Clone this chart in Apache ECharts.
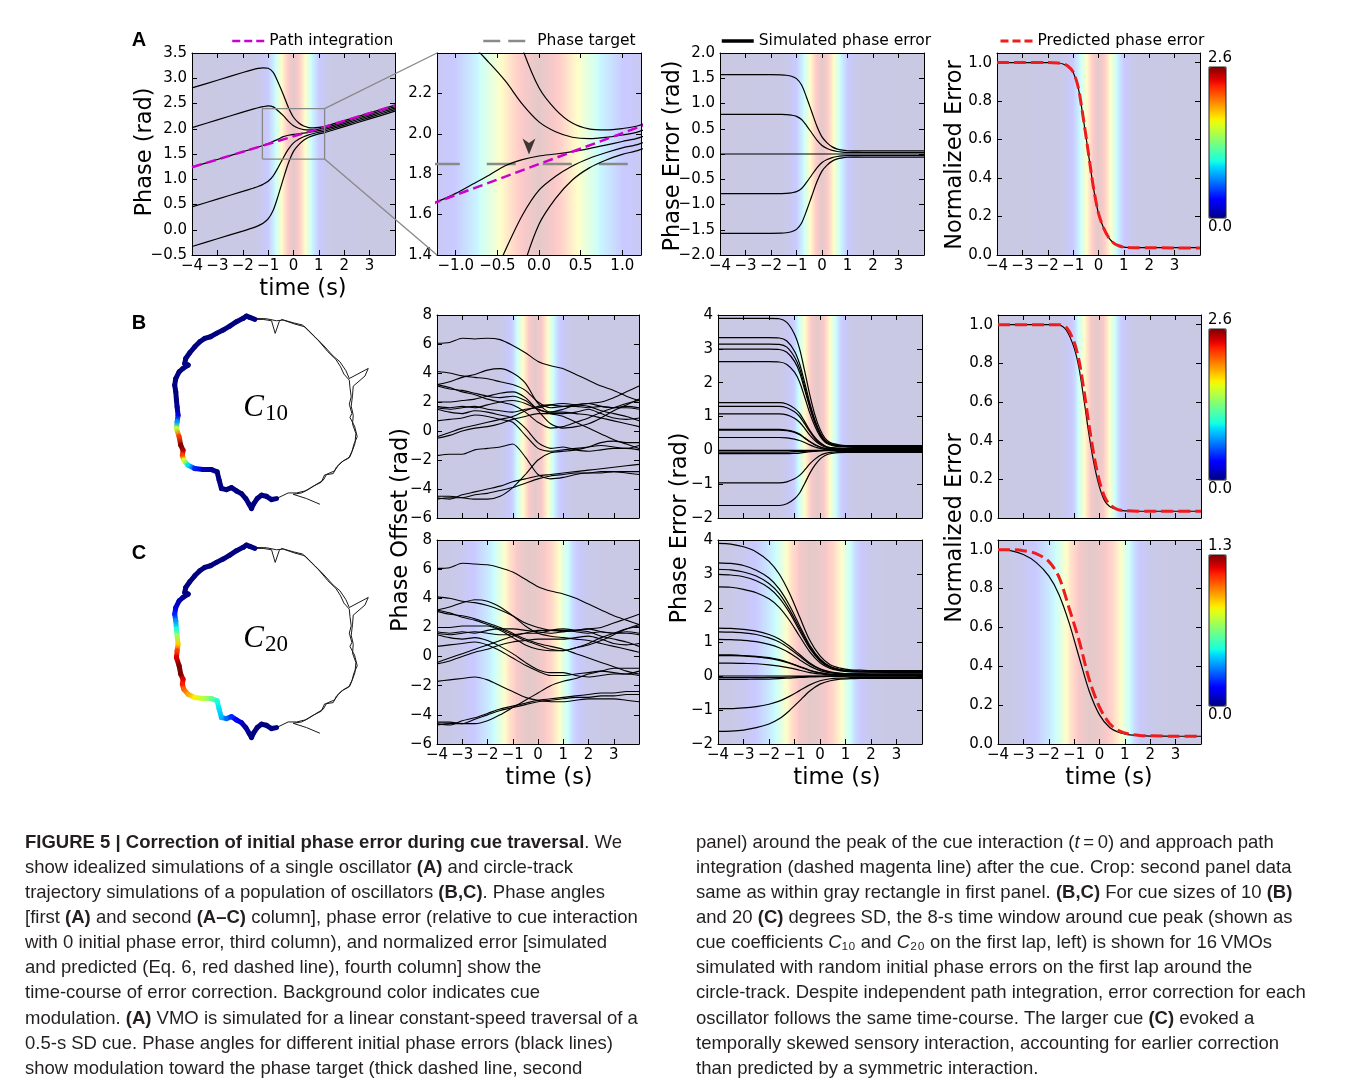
<!DOCTYPE html>
<html><head><meta charset="utf-8"><title>Figure 5</title>
<script src="https://cdn.jsdelivr.net/npm/echarts@6.0.0/dist/echarts.min.js"></script>
<style>html,body{margin:0;padding:0;background:#fff;}#chart{width:1355px;height:1089px;}</style>
</head><body><div id="chart"></div>
<script>
// ---------------- DATA ----------------
const timeTicks = [-4,-3,-2,-1,0,1,2,3,4];
const timeLabels = [-4,-3,-2,-1,0,1,2,3];
const zoomTimeTicks = [-1.0,-0.5,0,0.5,1.0];
const phaseTicksA = [-0.5,0,0.5,1,1.5,2,2.5,3,3.5];
const zoomPhaseTicks = [1.4,1.6,1.8,2.0,2.2,2.4];
const zoomPhaseLabels = [1.4,1.6,1.8,2.0,2.2];
const errTicksA = [-2,-1.5,-1,-0.5,0,0.5,1,1.5,2];
const normTicks = [0,0.2,0.4,0.6,0.8,1.0];
const offsetTicks = [-6,-4,-2,0,2,4,6,8];
const errTicksBC = [-2,-1,0,1,2,3,4];

// gray zoom rectangle (= axis range of the second panel in row A)
const zoomT = [-1.225, 1.225];
const zoomPhase = [1.4, 2.4];

const cueA_t = [-4,-1.75,-1.5,-1.25,-1,-0.75,-0.5,-0.25,0,0.25,0.5,0.75,1,1.25,1.5,1.75,4];
const cueA_v = [0,0.002,0.011,0.044,0.135,0.325,0.607,0.882,1,0.882,0.607,0.325,0.135,0.044,0.011,0.002,0];
const cueB_t = [-4,-1.6,-1.3,-1.0,-0.85,-0.6,-0.35,-0.1,0.15,0.4,0.6,0.8,1.1,1.4,4];
const cueB_v = [0,0.01,0.05,0.17,0.35,0.64,0.92,1,0.92,0.64,0.38,0.18,0.04,0.01,0];
const cueC_t = [-4,-3.5,-3,-2.5,-2.0,-1.7,-1.4,-1.1,-0.8,-0.4,-0.1,0.2,0.5,0.8,1.0,1.2,1.4,1.7,2.0,2.5,4];
const cueC_v = [0,0.01,0.05,0.13,0.27,0.38,0.58,0.8,0.93,1.0,0.98,0.93,0.85,0.68,0.5,0.36,0.2,0.08,0.03,0.01,0];
const cueMaxAB = 2.6, cueMaxC = 1.3;

// Row A
const tA = [-4,-3,-2,-1.6,-1.4,-1.2,-1.0,-0.8,-0.6,-0.4,-0.2,0,0.2,0.4,0.6,0.8,1.0,1.2,1.6,2,3,4];
const phaseA_p157 = [2.808,2.961,3.114,3.172,3.195,3.207,3.197,3.116,2.910,2.675,2.422,2.228,2.120,2.053,2.024,2.019,2.026,2.041,2.101,2.162,2.315,2.468];
const phaseA_p079 = [2.023,2.176,2.329,2.388,2.416,2.437,2.451,2.433,2.352,2.259,2.147,2.059,2.010,1.983,1.976,1.982,1.994,2.011,2.071,2.132,2.285,2.438];
const phaseA_0    = [1.238,1.391,1.544,1.605,1.636,1.668,1.705,1.750,1.795,1.843,1.872,1.890,1.900,1.912,1.927,1.944,1.962,1.980,2.041,2.102,2.255,2.408];
const phaseA_m079 = [0.453,0.606,0.759,0.822,0.856,0.899,0.959,1.067,1.238,1.427,1.597,1.721,1.790,1.841,1.878,1.906,1.930,1.949,2.011,2.072,2.225,2.378];
const phaseA_m157 = [-0.332,-0.179,-0.026,0.038,0.077,0.129,0.213,0.384,0.680,1.011,1.322,1.552,1.680,1.771,1.830,1.869,1.898,1.919,1.981,2.042,2.195,2.348];
const pathIntT = [-4, 4];
const pathIntV = [1.238, 2.462];
const targetT = [-1.3, 1.3];
const targetV = [1.85, 1.85];
const arrowAt = [-0.12, 1.897];

const errA_p157 = [1.570,1.570,1.570,1.567,1.559,1.539,1.492,1.366,1.115,0.832,0.550,0.338,0.220,0.141,0.097,0.075,0.064,0.061,0.060,0.060,0.060,0.060];
const errA_p079 = [0.785,0.785,0.785,0.783,0.780,0.769,0.746,0.683,0.557,0.416,0.275,0.169,0.110,0.071,0.049,0.038,0.032,0.031,0.030,0.030,0.030,0.030];
const errA_0    = [0,0,0,0,0,0,0,0,0,0,0,0,0,0,0,0,0,0,0,0,0,0];
const errA_m079 = [-0.785,-0.785,-0.785,-0.783,-0.780,-0.769,-0.746,-0.683,-0.557,-0.416,-0.275,-0.169,-0.110,-0.071,-0.049,-0.038,-0.032,-0.031,-0.030,-0.030,-0.030,-0.030];
const errA_m157 = [-1.570,-1.570,-1.570,-1.567,-1.559,-1.539,-1.492,-1.366,-1.115,-0.832,-0.550,-0.338,-0.220,-0.141,-0.097,-0.075,-0.064,-0.061,-0.060,-0.060,-0.060,-0.060];
const normA_sim  = [1,1,1,0.998,0.993,0.98,0.95,0.87,0.71,0.53,0.35,0.215,0.14,0.09,0.062,0.048,0.041,0.039,0.038,0.038,0.038,0.038];
const normA_pred = [1,1,1,0.998,0.994,0.981,0.952,0.872,0.712,0.532,0.352,0.217,0.141,0.091,0.062,0.048,0.041,0.039,0.038,0.038,0.037,0.037];

// Rows B, C : phase offsets (16 VMOs)
const tOff = [-4,-3.5,-3,-2.5,-2,-1.5,-1,-0.5,0,0.5,1,1.5,2,2.5,3,3.5,4];
const offsetB = [
 [6.05,6.1,6.4,6.35,6.4,6.3,5.9,5.4,4.8,4.5,4.3,3.9,3.5,3.1,2.8,2.4,2.1],
 [4.1,4.0,3.8,3.7,3.6,3.4,3.2,2.8,2.0,1.6,1.7,1.7,1.6,1.7,1.6,1.7,1.6],
 [3.2,3.4,3.7,3.9,4.2,4.3,4.0,3.3,1.9,1.3,1.3,1.2,1.1,0.9,0.7,0.5,0.3],
 [3.1,2.9,2.8,2.6,2.4,2.3,2.4,2.1,1.5,1.2,1.0,0.6,0.2,-0.2,-0.6,-0.9,-1.2],
 [2.0,2.0,2.1,2.2,2.4,2.6,2.7,2.3,1.4,0.5,0.2,0.3,0.5,0.9,1.4,1.8,2.2],
 [1.7,1.6,1.7,1.6,1.8,2.0,2.1,1.9,1.5,1.3,1.5,1.8,1.9,1.7,1.6,1.6,1.5],
 [1.5,1.3,1.2,1.4,1.3,1.1,0.9,0.2,-0.8,-1.2,-1.1,-1.3,-1.4,-1.3,-1.2,-1.2,-1.3],
 [0.7,0.8,0.9,1.1,1.0,0.8,0.6,-0.3,-1.2,-1.4,-1.3,-1.2,-1.1,-1.0,-1.1,-1.2,-1.0],
 [-0.4,-0.1,0.2,0.4,0.6,0.8,1.0,1.4,1.7,1.8,1.7,1.8,1.9,2.0,2.3,2.7,3.1],
 [-0.5,-0.3,0.0,0.2,0.3,0.5,0.8,1.0,1.2,1.2,1.2,1.3,1.5,1.2,0.9,0.8,0.9],
 [-1.7,-1.6,-1.6,-1.3,-1.2,-1.1,-0.9,-1.8,-3.0,-3.3,-3.2,-3.0,-2.9,-2.9,-2.8,-2.9,-3.0],
 [-4.5,-4.5,-4.6,-4.7,-4.7,-4.5,-3.9,-3.0,-2.0,-1.5,-1.4,-1.3,-1.1,-0.8,-0.7,-0.8,-0.8],
 [-4.6,-4.7,-4.4,-4.2,-4.0,-3.8,-3.5,-3.3,-3.1,-3.0,-2.9,-2.8,-2.7,-2.6,-2.5,-2.4,-2.3],
 [-4.7,-4.6,-4.6,-4.4,-4.3,-4.1,-3.9,-3.6,-3.3,-3.1,-3.0,-2.9,-2.9,-2.8,-2.8,-2.8,-2.8],
 [1.6,1.5,1.6,1.7,1.5,1.4,1.3,1.5,1.6,1.8,1.9,1.8,1.7,1.4,1.2,1.0,0.7],
 [3.2,3.0,2.7,2.5,2.2,2.0,1.8,1.3,0.6,0.2,0.3,0.6,0.9,1.3,1.6,1.9,2.1]
];
const offsetC = [
 [6.05,6.1,6.4,6.35,6.3,6.1,5.8,5.3,4.8,4.5,4.3,4.0,3.6,3.2,2.8,2.5,2.2],
 [4.1,4.0,3.8,3.7,3.5,3.2,2.8,2.3,2.0,1.8,1.8,1.7,1.6,1.7,1.6,1.7,1.6],
 [3.2,3.4,3.7,3.9,3.8,3.4,2.8,2.1,1.6,1.4,1.3,1.2,1.1,0.9,0.7,0.5,0.3],
 [3.1,2.9,2.8,2.6,2.3,2.0,1.6,1.2,0.9,0.7,0.5,0.2,-0.1,-0.4,-0.7,-1.0,-1.2],
 [2.0,2.0,2.1,2.1,2.1,1.8,1.3,0.8,0.5,0.4,0.4,0.6,0.8,1.1,1.5,1.9,2.2],
 [1.7,1.6,1.7,1.6,1.8,1.9,1.9,1.8,1.7,1.6,1.7,1.8,1.9,1.7,1.6,1.6,1.5],
 [1.5,1.3,1.2,1.3,1.1,0.7,0.2,-0.4,-0.9,-1.1,-1.1,-1.3,-1.4,-1.3,-1.2,-1.2,-1.3],
 [0.7,0.8,0.9,1.0,0.8,0.4,-0.1,-0.6,-1.0,-1.3,-1.3,-1.2,-1.1,-1.0,-1.1,-1.2,-1.0],
 [-0.4,-0.1,0.2,0.5,0.8,1.1,1.4,1.6,1.8,1.8,1.7,1.8,1.9,2.0,2.3,2.6,2.9],
 [-0.5,-0.3,0.0,0.3,0.5,0.8,1.0,1.1,1.2,1.2,1.2,1.3,1.4,1.2,0.9,0.8,0.9],
 [-1.7,-1.6,-1.5,-1.4,-1.6,-2.0,-2.4,-2.8,-3.0,-3.1,-3.1,-3.0,-2.9,-2.9,-2.9,-3.0,-3.1],
 [-4.5,-4.5,-4.6,-4.6,-4.4,-4.0,-3.5,-3.0,-2.5,-2.0,-1.7,-1.5,-1.2,-1.0,-0.8,-0.8,-0.8],
 [-4.6,-4.7,-4.4,-4.2,-3.9,-3.6,-3.4,-3.2,-3.0,-2.9,-2.8,-2.7,-2.6,-2.5,-2.5,-2.4,-2.4],
 [-4.7,-4.6,-4.6,-4.3,-4.0,-3.7,-3.5,-3.3,-3.1,-3.0,-2.9,-2.8,-2.8,-2.7,-2.7,-2.6,-2.6],
 [1.6,1.5,1.6,1.7,1.6,1.5,1.5,1.6,1.6,1.8,1.9,1.8,1.7,1.4,1.2,1.0,0.7],
 [3.2,3.0,2.7,2.5,2.2,1.9,1.5,1.1,0.8,0.5,0.4,0.6,0.9,1.3,1.6,1.9,2.1]
];

// Row B phase error / normalized error
const tB = [-4,-2,-1.6,-1.3,-1.0,-0.8,-0.6,-0.4,-0.2,0,0.2,0.4,0.7,1.0,1.5,2,4];
const errB = [
 [3.90,3.90,3.89,3.78,3.43,3.00,2.34,1.64,1.05,0.62,0.35,0.23,0.17,0.14,0.14,0.14,0.14],
 [3.33,3.33,3.32,3.23,2.93,2.56,2.00,1.40,0.90,0.53,0.30,0.20,0.14,0.12,0.12,0.12,0.12],
 [3.14,3.14,3.13,3.05,2.76,2.42,1.88,1.32,0.85,0.50,0.28,0.19,0.14,0.12,0.11,0.11,0.11],
 [2.99,2.99,2.98,2.90,2.63,2.30,1.79,1.26,0.81,0.48,0.27,0.18,0.13,0.11,0.10,0.10,0.10],
 [2.62,2.62,2.61,2.54,2.31,2.02,1.57,1.10,0.71,0.42,0.24,0.16,0.11,0.10,0.09,0.09,0.09],
 [1.41,1.41,1.41,1.37,1.24,1.09,0.85,0.59,0.38,0.23,0.13,0.08,0.06,0.05,0.05,0.05,0.05],
 [1.30,1.30,1.30,1.26,1.14,1.00,0.78,0.55,0.35,0.21,0.12,0.08,0.06,0.05,0.05,0.05,0.05],
 [1.08,1.08,1.08,1.05,0.95,0.83,0.65,0.45,0.29,0.17,0.10,0.06,0.05,0.04,0.04,0.04,0.04],
 [0.62,0.62,0.62,0.60,0.55,0.48,0.37,0.26,0.17,0.10,0.06,0.04,0.03,0.02,0.02,0.02,0.02],
 [0.60,0.60,0.60,0.58,0.53,0.46,0.36,0.25,0.16,0.10,0.05,0.04,0.03,0.02,0.02,0.02,0.02],
 [0.38,0.38,0.38,0.37,0.33,0.29,0.23,0.16,0.10,0.06,0.03,0.02,0.02,0.01,0.01,0.01,0.01],
 [0,0,0,0,0,0,0,0,0,0,0,0,0,0,0,0,0],
 [-0.05,-0.05,-0.05,-0.05,-0.04,-0.04,-0.03,-0.02,-0.01,-0.01,0,0,0,0,0,0,0],
 [-0.10,-0.10,-0.10,-0.10,-0.09,-0.08,-0.06,-0.04,-0.03,-0.02,-0.01,-0.01,0,0,0,0,0],
 [-0.96,-0.96,-0.96,-0.93,-0.84,-0.74,-0.58,-0.40,-0.26,-0.15,-0.09,-0.06,-0.04,-0.04,-0.03,-0.03,-0.03],
 [-1.63,-1.63,-1.63,-1.58,-1.43,-1.26,-0.98,-0.68,-0.44,-0.26,-0.15,-0.10,-0.07,-0.06,-0.06,-0.06,-0.06]
];
const normB_sim  = [1,1,0.998,0.97,0.88,0.77,0.60,0.42,0.27,0.16,0.09,0.06,0.043,0.037,0.035,0.035,0.035];
const normB_pred = [1,1,1,0.985,0.91,0.81,0.65,0.47,0.31,0.19,0.11,0.07,0.045,0.038,0.035,0.035,0.035];

// Row C phase error / normalized error
const tC = [-4,-3.5,-3,-2.5,-2,-1.6,-1.2,-0.8,-0.4,0,0.4,0.8,1.2,1.6,2,3,4];
const errC = [
 [3.90,3.88,3.80,3.65,3.37,3.00,2.44,1.74,1.05,0.59,0.33,0.23,0.18,0.17,0.16,0.16,0.16],
 [3.33,3.31,3.25,3.11,2.88,2.56,2.08,1.48,0.90,0.50,0.28,0.19,0.16,0.14,0.14,0.13,0.13],
 [3.14,3.12,3.06,2.94,2.72,2.42,1.96,1.40,0.85,0.47,0.27,0.18,0.15,0.14,0.13,0.13,0.13],
 [2.99,2.97,2.92,2.80,2.59,2.30,1.87,1.33,0.81,0.45,0.25,0.17,0.14,0.13,0.12,0.12,0.12],
 [2.62,2.61,2.55,2.45,2.27,2.02,1.64,1.17,0.71,0.39,0.22,0.15,0.12,0.11,0.11,0.10,0.10],
 [1.41,1.40,1.37,1.32,1.22,1.09,0.88,0.63,0.38,0.21,0.12,0.08,0.07,0.06,0.06,0.06,0.06],
 [1.30,1.29,1.27,1.22,1.12,1.00,0.81,0.58,0.35,0.20,0.11,0.08,0.06,0.06,0.05,0.05,0.05],
 [1.08,1.07,1.05,1.01,0.93,0.83,0.68,0.48,0.29,0.16,0.09,0.06,0.05,0.05,0.04,0.04,0.04],
 [0.62,0.62,0.60,0.58,0.54,0.48,0.39,0.28,0.17,0.09,0.05,0.04,0.03,0.03,0.03,0.02,0.02],
 [0.60,0.60,0.59,0.56,0.52,0.46,0.38,0.27,0.16,0.09,0.05,0.03,0.03,0.03,0.02,0.02,0.02],
 [0.38,0.38,0.37,0.36,0.33,0.29,0.24,0.17,0.10,0.06,0.03,0.02,0.02,0.02,0.02,0.02,0.02],
 [0,0,0,0,0,0,0,0,0,0,0,0,0,0,0,0,0],
 [-0.05,-0.05,-0.05,-0.05,-0.04,-0.04,-0.03,-0.02,-0.01,-0.01,0,0,0,0,0,0,0],
 [-0.10,-0.10,-0.10,-0.09,-0.09,-0.08,-0.06,-0.04,-0.03,-0.02,-0.01,-0.01,0,0,0,0,0],
 [-0.96,-0.96,-0.94,-0.90,-0.83,-0.74,-0.60,-0.43,-0.26,-0.14,-0.08,-0.06,-0.05,-0.04,-0.04,-0.04,-0.04],
 [-1.63,-1.62,-1.59,-1.52,-1.41,-1.26,-1.02,-0.73,-0.44,-0.24,-0.14,-0.09,-0.08,-0.07,-0.07,-0.07,-0.07]
];
const normC_sim  = [1.0,0.995,0.975,0.935,0.865,0.77,0.625,0.445,0.27,0.15,0.085,0.058,0.047,0.043,0.041,0.04,0.04];
const normC_pred = [1,1,0.995,0.98,0.94,0.86,0.70,0.53,0.33,0.19,0.105,0.066,0.05,0.044,0.042,0.04,0.04];

// Circle-track trajectory (track units), first-lap cue window (thick) and other laps (thin)
const trackX = [-0.111,-0.164,-0.199,-0.233,-0.303,-0.373,-0.443,-0.512,-0.575,-0.634,-0.686,-0.739,-0.791,-0.833,-0.843,-0.808,-0.861,-0.902,-0.937,-0.948,-0.937,-0.930,-0.923,-0.913,-0.923,-0.930,-0.902,-0.885,-0.861,-0.868,-0.854,-0.808,-0.739,-0.652,-0.564,-0.505,-0.484,-0.460,-0.408,-0.355,-0.303,-0.251,-0.206,-0.171,-0.146,-0.122,-0.087,-0.042,0.010,0.063,0.115];
const trackY = [0.972,0.993,1.007,0.983,0.948,0.902,0.861,0.826,0.791,0.774,0.739,0.686,0.624,0.564,0.512,0.495,0.460,0.425,0.355,0.286,0.216,0.129,0.059,-0.028,-0.098,-0.167,-0.254,-0.341,-0.394,-0.446,-0.498,-0.551,-0.585,-0.596,-0.596,-0.620,-0.707,-0.794,-0.805,-0.784,-0.819,-0.847,-0.899,-0.958,-1.003,-0.951,-0.899,-0.864,-0.875,-0.909,-0.899];
const cueAlongB = [0,0,0,0,0,0,0,0,0,0,0,0,0,0,0,0,0,0,0,0,0,0,0.05,0.2,0.7,1.5,2.2,2.6,2.5,2.2,1.6,0.9,0.4,0.15,0.05,0,0,0,0,0,0,0,0,0,0,0,0,0,0,0,0];
const cueAlongC = [0,0,0,0,0,0,0,0,0,0,0,0,0,0,0,0,0.02,0.05,0.1,0.2,0.35,0.5,0.7,0.9,1.1,1.2,1.3,1.3,1.2,1.15,1.05,0.95,0.85,0.75,0.62,0.5,0.45,0.4,0.3,0.22,0.15,0.08,0.04,0.02,0,0,0,0,0,0,0];
const lap1X = [-0.111,-0.024,0.063,0.101,0.143,0.167,0.289,0.387,0.470,0.554,0.652,0.735,0.784,0.819,0.875,0.882,0.895,0.875,0.902,0.882,0.930,0.958,0.923,0.902,0.882,0.791,0.742,0.707,0.617,0.582,0.498,0.415,0.324,0.237,0.115];
const lap1Y = [0.972,0.972,0.958,0.826,0.948,0.972,0.937,0.913,0.833,0.749,0.634,0.554,0.477,0.401,0.338,0.261,0.164,0.087,-0.010,-0.052,-0.143,-0.254,-0.331,-0.411,-0.463,-0.519,-0.568,-0.638,-0.652,-0.728,-0.770,-0.819,-0.840,-0.840,-0.899];
const lap2X = [-0.146,0.010,0.115,0.185,0.307,0.411,0.516,0.603,0.707,0.777,0.840,0.875,1.073,1.038,0.916,0.909,0.895,0.916,0.909,0.944,0.934,0.909,0.868,0.812,0.760,0.721,0.638,0.603,0.533,0.446,0.376,0.289,0.429,0.568];
const lap2Y = [0.983,0.979,0.958,0.965,0.923,0.895,0.791,0.704,0.589,0.530,0.436,0.355,0.460,0.380,0.275,0.181,0.066,-0.028,-0.122,-0.220,-0.324,-0.394,-0.477,-0.505,-0.554,-0.610,-0.645,-0.707,-0.749,-0.805,-0.840,-0.854,-0.899,-0.958];
const circleLabelB = [0, 0.02];
const circleLabelC = [0, 0.0];

// ---------------- HELPERS ----------------
const FONT = "DejaVu Sans";
const CAPFONT = "'Liberation Sans', Arial, sans-serif";
function jet(v){
  v = Math.max(0, Math.min(1, v));
  const seg = pts => { for (let i=0;i<pts.length-1;i++){ const a=pts[i], b=pts[i+1]; if (v<=b[0]) return a[1]+(b[1]-a[1])*(v-a[0])/(b[0]-a[0]); } return pts[pts.length-1][1]; };
  return [seg([[0,0],[0.35,0],[0.66,1],[0.89,1],[1,0.5]]), seg([[0,0],[0.125,0],[0.375,1],[0.64,1],[0.91,0],[1,0]]), seg([[0,0.5],[0.11,1],[0.34,1],[0.65,0],[1,0]])];
}
function jetCss(v){ const c=jet(v); return 'rgb('+c.map(x=>Math.round(x*255)).join(',')+')'; }
function tint(v){ const a=0.21; const c=jet(v); return 'rgb('+c.map(x=>Math.round(255*(1-a)+255*a*x)).join(',')+')'; }
const JET_LIST = []; for (let i=0;i<=32;i++) JET_LIST.push(jetCss(i/32));
function fmt(v, d){ const s = Math.abs(v).toFixed(d); return (v < -1e-9 ? '\u2212' : '') + s; }

const grids=[], xAxes=[], yAxes=[], series=[];
function axis(gi, pos, a, primary){
  return {type:'value', gridIndex:gi, position:pos, min:a.min, max:a.max, z:5,
    axisLine:{show:true, onZero:false, lineStyle:{color:'#000', width:1}},
    axisTick:{show:true, inside:true, length:5, customValues:a.ticks, lineStyle:{color:'#000', width:1}},
    axisLabel:{show: primary && !!a.labels, customValues: a.labels || a.ticks, formatter: v=>fmt(v, a.dec),
      color:'#000', fontFamily:FONT, fontSize:15, margin:(pos==='left'||pos==='right')?5:4},
    splitLine:{show:false}};
}
function panel(box, xa, ya){
  const gi = grids.length;
  grids.push({left:box[0], top:box[1], width:box[2], height:box[3], show:false});
  const xi = xAxes.length, yi = yAxes.length;
  xAxes.push(axis(gi,'bottom',xa,true)); xAxes.push(axis(gi,'top',xa,false));
  yAxes.push(axis(gi,'left',ya,true)); yAxes.push(axis(gi,'right',ya,false));
  return {gi, xi, yi, ya};
}
function background(p, ct, cv){
  const yRef = p.ya.min;
  series.push({type:'custom', xAxisIndex:p.xi, yAxisIndex:p.yi, z:1, silent:true, data:[[0]],
    renderItem:(params, api)=>{
      const cs = params.coordSys; const stops=[];
      for (let i=0;i<ct.length-1;i++){
        for (let k=0;k<10;k++){
          const f=k/10, t=ct[i]+(ct[i+1]-ct[i])*f, v=cv[i]+(cv[i+1]-cv[i])*f;
          const off=(api.coord([t,yRef])[0]-cs.x)/cs.width;
          if (off>=0 && off<=1) stops.push({offset:off, color:tint(v)});
        }
      }
      const lastOff=(api.coord([ct[ct.length-1],yRef])[0]-cs.x)/cs.width;
      if (lastOff>=0 && lastOff<=1) stops.push({offset:lastOff, color:tint(cv[cv.length-1])});
      if (stops.length && stops[0].offset>0) stops.unshift({offset:0, color:stops[0].color});
      if (stops.length && stops[stops.length-1].offset<1) stops.push({offset:1, color:stops[stops.length-1].color});
      return {type:'rect', shape:{x:cs.x, y:cs.y, width:cs.width, height:cs.height},
        style:{fill:new echarts.graphic.LinearGradient(0,0,1,0,stops)}};
    }});
  return series.length-1;
}
function line(p, t, v, o){
  o = o || {};
  const col = o.color||'#000';
  series.push({type:'line', name:o.name||('s'+series.length), xAxisIndex:p.xi, yAxisIndex:p.yi, silent:true,
    data:t.map((x,i)=>[x, v[i]]), symbol:'none', smooth:(o.smooth===undefined?0.3:o.smooth), z:o.z||10,
    itemStyle:{color:col}, lineStyle:{color:col, width:o.width||1.2, type:o.type||'solid'}});
  return series.length-1;
}

// ---------------- PANELS ----------------
const tAxis = {min:-4, max:4, ticks:timeTicks, labels:timeLabels, dec:0};
const tAxisNoLab = {min:-4, max:4, ticks:timeTicks, labels:null, dec:0};
const pA1 = panel([192,53,203,202], tAxis, {min:-0.5, max:3.5, ticks:phaseTicksA, labels:phaseTicksA, dec:1});
const pA2 = panel([437,53,204,202], {min:zoomT[0], max:zoomT[1], ticks:zoomTimeTicks, labels:zoomTimeTicks, dec:1}, {min:zoomPhase[0], max:zoomPhase[1], ticks:zoomPhaseTicks, labels:zoomPhaseLabels, dec:1});
const pA3 = panel([720,53,204,202], tAxis, {min:-2, max:2, ticks:errTicksA, labels:errTicksA, dec:1});
const pA4 = panel([997,53,203,202], tAxis, {min:0, max:1.05, ticks:normTicks, labels:normTicks, dec:1});
const pB2 = panel([437,315,202,203], tAxisNoLab, {min:-6, max:8, ticks:offsetTicks, labels:offsetTicks, dec:0});
const pB3 = panel([718,315,204,203], tAxisNoLab, {min:-2, max:4, ticks:errTicksBC, labels:errTicksBC, dec:0});
const pB4 = panel([998,315,203,203], tAxisNoLab, {min:0, max:1.05, ticks:normTicks, labels:normTicks, dec:1});
const pC2 = panel([437,540,202,204], tAxis, {min:-6, max:8, ticks:offsetTicks, labels:offsetTicks, dec:0});
const pC3 = panel([718,540,204,204], tAxis, {min:-2, max:4, ticks:errTicksBC, labels:errTicksBC, dec:0});
const pC4 = panel([998,540,203,204], tAxis, {min:0, max:1.05, ticks:normTicks, labels:normTicks, dec:1});

// circle-track grids (hidden axes)
function circleGrid(box){
  const gi = grids.length;
  grids.push({left:box[0], top:box[1], width:box[2], height:box[3], show:false});
  const xi = xAxes.length, yi = yAxes.length;
  xAxes.push({type:'value', gridIndex:gi, min:-1.3, max:1.3, show:false});
  yAxes.push({type:'value', gridIndex:gi, min:-1.3, max:1.3, show:false});
  return {gi, xi, yi};
}
const cB = circleGrid([141,288,249,249]);
const cC = circleGrid([141,517,249,249]);

// backgrounds
const bgA4 = [pA1,pA2,pA3,pA4].map(p=>background(p, cueA_t, cueA_v))[3];
[pB2,pB3,pB4].forEach(p=>background(p, cueB_t, cueB_v));
[pC2,pC3,pC4].forEach(p=>background(p, cueC_t, cueC_v));

// Row A lines
const phaseA = [phaseA_p157, phaseA_p079, phaseA_0, phaseA_m079, phaseA_m157];
const errA = [errA_p157, errA_p079, errA_0, errA_m079, errA_m157];
phaseA.forEach(v=>line(pA1, tA, v, {width:1.2}));
line(pA1, pathIntT, pathIntV, {name:'Path integration', color:'#cc00cc', width:2.5, type:[10,5], smooth:false, z:12});
line(pA1, [zoomT[0],zoomT[1],zoomT[1],zoomT[0],zoomT[0]], [zoomPhase[0],zoomPhase[0],zoomPhase[1],zoomPhase[1],zoomPhase[0]], {color:'#888', width:1.3, smooth:false, z:13});
line(pA2, targetT, targetV, {name:'Phase target', color:'#8a8a8a', width:2.5, type:[29,27], smooth:false, z:9});
phaseA.forEach(v=>line(pA2, tA, v, {width:1.2}));
line(pA2, pathIntT, pathIntV, {name:'Path integration', color:'#cc00cc', width:2.5, type:[10,5], smooth:false, z:12});
series.push({type:'scatter', xAxisIndex:pA2.xi, yAxisIndex:pA2.yi, silent:true, z:14, data:[arrowAt],
  symbol:'path://M6 16 L0 0 L6 4.5 L12 0 Z', symbolSize:[13,16], symbolOffset:[0,-8], itemStyle:{color:'#111'}});
errA.forEach(v=>line(pA3, tA, v, {name:'Simulated phase error', width:1.2}));
line(pA4, tA, normA_sim, {name:'Simulated phase error', width:1.2});
line(pA4, tA, normA_pred, {name:'Predicted phase error', color:'#ee1c1c', width:3, type:[12,5], z:12});

// Rows B, C
offsetB.forEach(v=>line(pB2, tOff, v, {width:1.1, smooth:0.25}));
offsetC.forEach(v=>line(pC2, tOff, v, {width:1.1, smooth:0.25}));
errB.forEach(v=>line(pB3, tB, v, {width:1.2}));
errC.forEach(v=>line(pC3, tC, v, {width:1.2}));
line(pB4, tB, normB_sim, {width:1.2});
line(pB4, tB, normB_pred, {color:'#ee1c1c', width:3, type:[12,5], z:12});
line(pC4, tC, normC_sim, {width:1.2});
line(pC4, tC, normC_pred, {color:'#ee1c1c', width:3, type:[12,5], z:12});

// circle tracks
function thin(c, xs, ys){ series.push({type:'line', xAxisIndex:c.xi, yAxisIndex:c.yi, silent:true, symbol:'none', smooth:false, z:8,
  data:xs.map((x,i)=>[x,ys[i]]), lineStyle:{color:'#1a1a1a', width:1}}); }
function thick(c, xs, ys, cs, cmax){
  const data=[];
  for (let i=0;i<xs.length-1;i++) data.push([xs[i], ys[i], (cs[i]+cs[i+1])/2, xs[i+1], ys[i+1], cs[i], cs[i+1]]);
  series.push({type:'custom', xAxisIndex:c.xi, yAxisIndex:c.yi, silent:true, z:12, data, encode:{x:0, y:1},
    renderItem:(params, api)=>{
      const p1=api.coord([api.value(0),api.value(1)]), p2=api.coord([api.value(3),api.value(4)]);
      const c1=jetCss(api.value(5)/cmax), c2=jetCss(api.value(6)/cmax);
      return {type:'line', shape:{x1:p1[0],y1:p1[1],x2:p2[0],y2:p2[1]},
        style:{stroke:new echarts.graphic.LinearGradient(p1[0],p1[1],p2[0]+0.01,p2[1]+0.01,[{offset:0,color:c1},{offset:1,color:c2}],true), lineWidth:5, lineCap:'round'}};
    }});
  return series.length-1;
}
thin(cB, lap1X, lap1Y); thin(cB, lap2X, lap2Y);
const thickB = thick(cB, trackX, trackY, cueAlongB, cueMaxAB);
thin(cC, lap1X, lap1Y); thin(cC, lap2X, lap2Y);
const thickC = thick(cC, trackX, trackY, cueAlongC, cueMaxC);

// ---------------- LEGENDS / COLORBARS ----------------
const legTxt = {fontFamily:FONT, fontSize:15.5, color:'#000'};
const noSym = {color:'rgba(0,0,0,0)', opacity:0, borderWidth:0};
const legends = [
  {data:['Path integration'], left:231, top:33, itemWidth:32, itemHeight:12, padding:0, selectedMode:false, textStyle:legTxt, itemStyle:noSym, lineStyle:{type:[8,4], width:2.5}},
  {data:['Phase target'], left:482, top:33, itemWidth:49, itemHeight:12, padding:0, selectedMode:false, textStyle:legTxt, itemStyle:noSym, lineStyle:{type:[17,8], width:2.5}},
  {data:['Simulated phase error'], left:720, top:33, itemWidth:32, itemHeight:12, padding:0, selectedMode:false, textStyle:legTxt, itemStyle:noSym, lineStyle:{width:3.5}},
  {data:['Predicted phase error'], left:999, top:33, itemWidth:32, itemHeight:12, padding:0, selectedMode:false, textStyle:legTxt, itemStyle:noSym, lineStyle:{type:[8,4], width:3}}
];
function vm(sIdx, dim, max, left, top){
  return {type:'continuous', seriesIndex:sIdx, dimension:dim, min:0, max:max, calculable:false, hoverLink:false, realtime:false,
    inRange:{color:JET_LIST}, itemWidth:17, itemHeight:151, left:left, top:top, padding:0, orient:'vertical', text:null, showLabel:false};
}
const visualMaps = [vm(bgA4, 0, cueMaxAB, 1209, 67), vm(thickB, 2, cueMaxAB, 1209, 329), vm(thickC, 2, cueMaxC, 1209, 555)];

const chart = echarts.init(document.getElementById('chart'), null, {renderer:'canvas'});
chart.setOption({animation:false, backgroundColor:'#fff', grid:grids, xAxis:xAxes, yAxis:yAxes, series, legend:legends, visualMap:visualMaps});

// ---------------- GRAPHICS (text, connectors) ----------------
const G = [];
function txt(x, y, s, size, opts){
  opts = opts || {};
  G.push({type:'text', x:x, y:y, rotation:opts.rot||0, z:100, silent:true,
    style:{text:s, fontSize:size, fontFamily:opts.family||FONT, fontWeight:opts.weight||'normal', fontStyle:opts.style||'normal',
      fill:opts.fill||'#000', textAlign:opts.align||'center', textVerticalAlign:'middle'}});
}
txt(139,40,'A',20,{family:CAPFONT, weight:'bold'});
txt(139,323,'B',20,{family:CAPFONT, weight:'bold'});
txt(139,553,'C',20,{family:CAPFONT, weight:'bold'});
const R = Math.PI/2;
txt(145,152,'Phase (rad)',22.5,{rot:R});
txt(303,289,'time (s)',22.5);
txt(673,156,'Phase Error (rad)',22.5,{rot:R});
txt(955,155,'Normalized Error',22.5,{rot:R});
txt(401,530,'Phase Offset (rad)',22.5,{rot:R});
txt(680,528,'Phase Error (rad)',22.5,{rot:R});
txt(955,528,'Normalized Error',22.5,{rot:R});
txt(549,778,'time (s)',22.5); txt(837,778,'time (s)',22.5); txt(1109,778,'time (s)',22.5);
// colorbar frames + labels
[[1209,67,'2.6'],[1209,329,'2.6'],[1209,555,'1.3']].forEach(c=>{
  G.push({type:'rect', z:100, silent:true, shape:{x:c[0],y:c[1],width:17,height:151}, style:{fill:null, stroke:'#222', lineWidth:1}});
  txt(c[0]+11, c[1]-9, c[2], 15);
  txt(c[0]+11, c[1]+160, '0.0', 15);
});
// zoom connectors
const boxTR = chart.convertToPixel({xAxisIndex:pA1.xi, yAxisIndex:pA1.yi}, [zoomT[1], zoomPhase[1]]);
const boxBR = chart.convertToPixel({xAxisIndex:pA1.xi, yAxisIndex:pA1.yi}, [zoomT[1], zoomPhase[0]]);
const a2TL = chart.convertToPixel({xAxisIndex:pA2.xi, yAxisIndex:pA2.yi}, [zoomT[0], zoomPhase[1]]);
const a2BL = chart.convertToPixel({xAxisIndex:pA2.xi, yAxisIndex:pA2.yi}, [zoomT[0], zoomPhase[0]]);
G.push({type:'line', z:100, silent:true, shape:{x1:boxTR[0],y1:boxTR[1],x2:a2TL[0],y2:a2TL[1]}, style:{stroke:'#888', lineWidth:1.3}});
G.push({type:'line', z:100, silent:true, shape:{x1:boxBR[0],y1:boxBR[1],x2:a2BL[0],y2:a2BL[1]}, style:{stroke:'#888', lineWidth:1.3}});
// cue-coefficient labels in circles
function cueLabel(c, at, sub){
  const p = chart.convertToPixel({xAxisIndex:c.xi, yAxisIndex:c.yi}, at);
  txt(p[0]-12, p[1]-3, 'C', 31, {family:"'Liberation Serif', serif", style:'italic'});
  txt(p[0]+11, p[1]+3, sub, 23, {family:"'Liberation Serif', serif"});
}
cueLabel(cB, circleLabelB, '10');
cueLabel(cC, circleLabelC, '20');

// caption
const CAPSIZE = 18.5;
const capStyle = {fontFamily:CAPFONT, fontSize:CAPSIZE, fill:'#231f20'};
const rich = {n:Object.assign({},capStyle), b:Object.assign({fontWeight:'bold'},capStyle), i:Object.assign({fontStyle:'italic'},capStyle)};
const capLeft = [
 [['b','FIGURE 5 | Correction of initial phase error during cue traversal'],['n','. We']],
 [['n','show idealized simulations of a single oscillator '],['b','(A)'],['n',' and circle-track']],
 [['n','trajectory simulations of a population of oscillators '],['b','(B,C)'],['n','. Phase angles']],
 [['n','[first '],['b','(A)'],['n',' and second '],['b','(A\u2013C)'],['n',' column], phase error (relative to cue interaction']],
 [['n','with 0 initial phase error, third column), and normalized error [simulated']],
 [['n','and predicted (Eq. 6, red dashed line), fourth column] show the']],
 [['n','time-course of error correction. Background color indicates cue']],
 [['n','modulation. '],['b','(A)'],['n',' VMO is simulated for a linear constant-speed traversal of a']],
 [['n','0.5-s SD cue. Phase angles for different initial phase errors (black lines)']],
 [['n','show modulation toward the phase target (thick dashed line, second']]
];
const capRight = [
 [['n','panel) around the peak of the cue interaction ('],['i','t'],['n','\u2009=\u20090) and approach path']],
 [['n','integration (dashed magenta line) after the cue. Crop: second panel data']],
 [['n','same as within gray rectangle in first panel. '],['b','(B,C)'],['n',' For cue sizes of 10 '],['b','(B)']],
 [['n','and 20 '],['b','(C)'],['n',' degrees SD, the 8-s time window around cue peak (shown as']],
 [['n','cue coefficients '],['i','C'],['n','\u2081\u2080 and '],['i','C'],['n','\u2082\u2080 on the first lap, left) is shown for 16\u2009VMOs']],
 [['n','simulated with random initial phase errors on the first lap around the']],
 [['n','circle-track. Despite independent path integration, error correction for each']],
 [['n','oscillator follows the same time-course. The larger cue '],['b','(C)'],['n',' evoked a']],
 [['n','temporally skewed sensory interaction, accounting for earlier correction']],
 [['n','than predicted by a symmetric interaction.']]
];
const capY = [843,868,893,918,943,968,993,1019,1044,1069];
function capLine(x, y, segs){
  G.push({type:'text', x:x, y:y, z:100, silent:true, style:{text:segs.map(s=>'{'+s[0]+'|'+s[1]+'}').join(''), rich:rich,
    fontFamily:CAPFONT, fontSize:CAPSIZE, fill:'#231f20', textAlign:'left', textVerticalAlign:'middle'}});
}
capLeft.forEach((s,i)=>capLine(25, capY[i], s));
capRight.forEach((s,i)=>capLine(696, capY[i], s));

chart.setOption({graphic:G});
</script></body></html>
